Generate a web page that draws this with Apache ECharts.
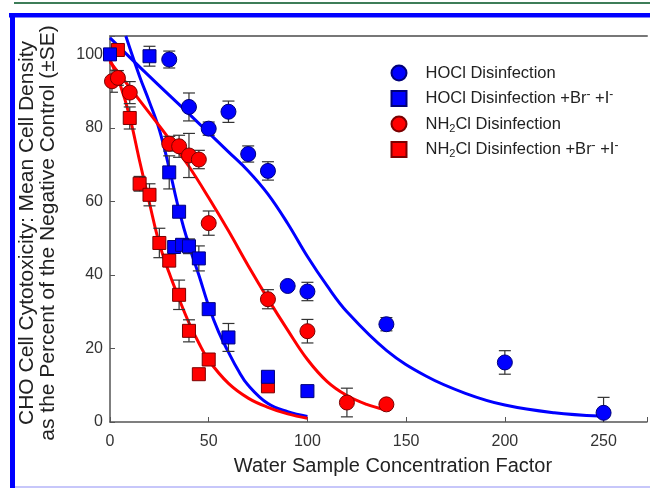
<!DOCTYPE html>
<html>
<head>
<meta charset="utf-8">
<title>CHO cytotoxicity</title>
<script src="https://cdn.jsdelivr.net/npm/echarts@6/dist/echarts.min.js"></script>
<style>
  html, body { margin: 0; padding: 0; background: #fff; }
  #main { width: 650px; height: 488px; }
</style>
</head>
<body>
<div id="main"></div>
<script type="text/javascript">
// measured points (concentration factor, % of negative control, SE)
var hoclX   = [30, 40, 50, 60, 70, 80, 90, 100, 140, 200, 250];
var hoclY   = [98.6, 85.7, 79.8, 84.4, 72.9, 68.3, 37.0, 35.5, 26.6, 16.2, 2.5];
var hoclErr = [2.3, 3.8, 1.8, 2.9, 2.2, 2.5, 1.0, 2.5, 1.8, 3.2, 4.2];

var hoclBrX   = [0, 20, 30, 32.5, 35, 36.5, 40, 45, 50, 60, 80, 100];
var hoclBrY   = [100, 99.5, 67.9, 47.6, 57.2, 48.2, 47.8, 44.5, 30.7, 23.0, 12.3, 8.4];
var hoclBrErr = [1.5, 2.7, 4.5, 1.5, 1.0, 1.5, 2.0, 3.4, 1.0, 3.8, 1.0, 1.2];

var nh2clX   = [1, 4, 10, 30, 35, 40, 45, 50, 80, 100, 120, 140];
var nh2clY   = [92.7, 93.6, 89.6, 75.7, 75.0, 72.5, 71.4, 54.1, 33.4, 24.7, 5.3, 4.8];
var nh2clErr = [3, 2, 3, 2, 3, 6, 2.5, 3.3, 2.6, 3.2, 3.9, 1];

var nh2clBrX   = [4, 10, 15, 20, 25, 30, 35, 40, 45, 50, 80];
var nh2clBrY   = [101.2, 82.7, 64.8, 61.8, 48.7, 43.9, 34.6, 24.8, 13.0, 17.0, 9.7];
var nh2clBrErr = [1.5, 3, 2, 3, 4, 1.5, 4, 3, 0.5, 1.5, 0.8];

// fitted curves
var hoclFitX = [0, 20, 40, 60, 70, 80, 90, 100, 110, 120, 140, 160, 180, 200, 225, 248];
var hoclFitY = [104.5, 94, 83.8, 73.5, 68.3, 62, 54, 45, 37, 30, 19.5, 12.5, 7.8, 4.6, 2.5, 1.6];
var hoclBrFitX = [8, 15, 20, 25, 30, 35, 40, 45, 50, 55, 60, 65, 70, 80, 90, 100];
var hoclBrFitY = [105, 94, 87, 79.5, 69, 57.5, 48, 40, 31.5, 24.5, 19, 14, 10, 5, 2.8, 1.5];
var nh2clFitX = [0, 10, 20, 30, 40, 50, 60, 70, 80, 90, 100, 110, 120, 130, 139];
var nh2clFitY = [98, 91, 84, 77, 69.5, 61, 52, 42.5, 33.5, 25, 17, 11, 7.2, 4.8, 3.4];
var nh2clBrFitX = [0, 5, 10, 15, 20, 25, 30, 35, 40, 45, 50, 60, 70, 80, 90, 100];
var nh2clBrFitY = [98.5, 92, 83, 71, 59.5, 48.5, 40.5, 33.5, 27, 21.5, 16.8, 10.5, 6.5, 4, 2.2, 1];

var names = ['HOCl Disinfection', 'HOCl Disinfection +Br- +I-', 'NH2Cl Disinfection', 'NH2Cl Disinfection +Br- +I-'];
var legendRich = {
    'HOCl Disinfection': 'HOCl Disinfection',
    'HOCl Disinfection +Br- +I-': 'HOCl Disinfection +Br{sup|-} +I{sup|-}',
    'NH2Cl Disinfection': 'NH{sub|2}Cl Disinfection',
    'NH2Cl Disinfection +Br- +I-': 'NH{sub|2}Cl Disinfection +Br{sup|-} +I{sup|-}'
};

var BLUE = '#0000ff', RED = '#ff0000';
var FONT = '"Liberation Sans", Arial, sans-serif';

function zip(xs, ys) {
    return xs.map(function (x, i) { return [x, ys[i]]; });
}
function zip3(xs, ys, es) {
    return xs.map(function (x, i) { return [x, ys[i], es[i]]; });
}

function fitLine(xs, ys, color) {
    return {
        type: 'line', data: zip(xs, ys), smooth: 0.4, showSymbol: false,
        lineStyle: { color: color, width: 3 }, z: 2, silent: true
    };
}

function errBars(xs, ys, es) {
    return {
        type: 'custom', data: zip3(xs, ys, es), z: 3, clip: true, silent: true,
        encode: { x: 0, y: 1 },
        renderItem: function (params, api) {
            var x = api.value(0), y = api.value(1), e = api.value(2);
            var t = api.coord([x, y + e]);
            var b = api.coord([x, y - e]);
            var w = 6;
            var st = { stroke: '#333', lineWidth: 1.2 };
            return {
                type: 'group', children: [
                    { type: 'line', shape: { x1: t[0], y1: t[1], x2: b[0], y2: b[1] }, style: st },
                    { type: 'line', shape: { x1: t[0] - w, y1: t[1], x2: t[0] + w, y2: t[1] }, style: st },
                    { type: 'line', shape: { x1: b[0] - w, y1: b[1], x2: b[0] + w, y2: b[1] }, style: st }
                ]
            };
        }
    };
}

function points(name, xs, ys, symbol, size, color, border) {
    return {
        name: name, type: 'scatter', data: zip(xs, ys), symbol: symbol, symbolSize: size, z: 4,
        itemStyle: { color: color, borderColor: border, borderWidth: 1, opacity: 1 }
    };
}

var myChart = echarts.init(document.getElementById('main'), null, { renderer: 'canvas' });

var option = {
    backgroundColor: '#ffffff',
    animation: false,
    textStyle: { fontFamily: FONT },
    grid: { left: 110, right: 0, top: 36, bottom: 66 },
    legend: {
        data: names,
        orient: 'vertical',
        left: 385.5, top: 58,
        itemWidth: 15, itemHeight: 15, itemGap: 5.5,
        selectedMode: false,
        formatter: function (n) { return legendRich[n]; },
        textStyle: {
            fontFamily: FONT, fontSize: 16.5, color: '#222', lineHeight: 20,
            padding: [0, 0, 0, 14],
            rich: {
                sub: { fontFamily: FONT, fontSize: 11, color: '#222', lineHeight: 12, verticalAlign: 'bottom' },
                sup: { fontFamily: FONT, fontSize: 12, color: '#222', lineHeight: 12, verticalAlign: 'top' }
            }
        }
    },
    xAxis: [{
        type: 'value', min: 0, max: 272, interval: 50,
        axisLine: { lineStyle: { color: '#555', width: 1.5 } },
        axisTick: { inside: true, length: 5, lineStyle: { color: '#555' } },
        axisLabel: {
            fontSize: 16, color: '#333', margin: 12, fontFamily: FONT,
            formatter: function (v) { return v % 50 === 0 ? v : ''; }
        },
        splitLine: { show: false }
    }, {
        type: 'value', min: 0, max: 272, position: 'top',
        axisLine: { show: true, lineStyle: { color: '#777', width: 2 } },
        axisTick: { show: false }, axisLabel: { show: false }, splitLine: { show: false }
    }],
    yAxis: {
        type: 'value', min: 0, max: 105, interval: 20,
        axisLine: { show: true, lineStyle: { color: '#555', width: 1.5 } },
        axisTick: { show: true, inside: true, length: 5, lineStyle: { color: '#555' } },
        axisLabel: {
            fontSize: 16, color: '#333', margin: 7, fontFamily: FONT,
            formatter: function (v) { return v % 20 === 0 ? v : ''; }
        },
        splitLine: { show: false }
    },
    graphic: [
        { type: 'rect', shape: { x: 14, y: 2, width: 636, height: 2 }, style: { fill: '#3d7d58' } },
        { type: 'rect', shape: { x: 9, y: 13, width: 641, height: 4.5 }, style: { fill: '#0000ff' } },
        { type: 'rect', shape: { x: 10, y: 13, width: 5, height: 475 }, style: { fill: '#0000ff' } },
        { type: 'rect', shape: { x: 15, y: 486.5, width: 635, height: 1 }, style: { fill: '#8f8ff5' } },
        {
            type: 'text', x: 37.5, y: 233, rotation: Math.PI / 2,
            style: {
                text: 'CHO Cell Cytotoxicity: Mean Cell Density\nas the Percent of the Negative Control (\u00b1SE)',
                font: '21px ' + FONT, fill: '#222', lineHeight: 21,
                align: 'center', verticalAlign: 'middle',
                textAlign: 'center', textVerticalAlign: 'middle'
            }
        },
        {
            type: 'text', x: 393, y: 466,
            style: {
                text: 'Water Sample Concentration Factor',
                font: '20px ' + FONT, fill: '#222',
                align: 'center', verticalAlign: 'middle',
                textAlign: 'center', textVerticalAlign: 'middle'
            }
        }
    ],
    series: [
        fitLine(hoclFitX, hoclFitY, BLUE),
        fitLine(hoclBrFitX, hoclBrFitY, BLUE),
        fitLine(nh2clFitX, nh2clFitY, RED),
        fitLine(nh2clBrFitX, nh2clBrFitY, RED),
        errBars(nh2clBrX, nh2clBrY, nh2clBrErr),
        errBars(nh2clX, nh2clY, nh2clErr),
        errBars(hoclBrX, hoclBrY, hoclBrErr),
        errBars(hoclX, hoclY, hoclErr),
        points(names[3], nh2clBrX, nh2clBrY, 'rect', 13, RED, '#7a0000'),
        points(names[2], nh2clX, nh2clY, 'circle', 15, RED, '#7a0000'),
        points(names[1], hoclBrX, hoclBrY, 'rect', 13, BLUE, '#00007a'),
        points(names[0], hoclX, hoclY, 'circle', 15, BLUE, '#00007a')
    ]
};

if (option && typeof option === 'object') {
    myChart.setOption(option);
}
</script>
</body>
</html>
